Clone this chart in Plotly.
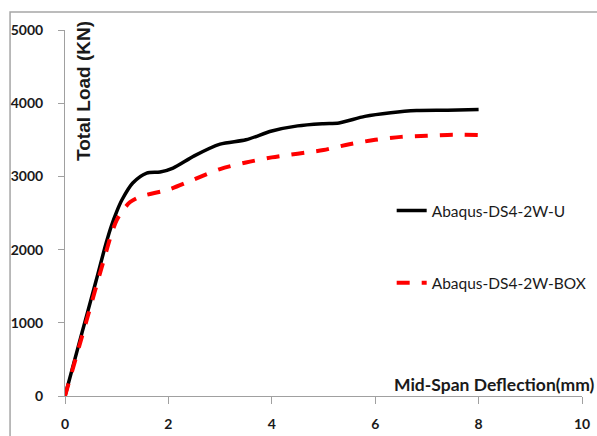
import plotly.graph_objects as go

# Data
u_x = [0, 0.3, 0.6, 0.8, 0.9, 1.0, 1.1, 1.31, 1.58, 1.84, 2.09, 2.5, 3.0, 3.5, 4.0, 4.5, 5.0, 5.3, 5.8, 6.3, 6.8, 7.4, 8.0]
u_y = [0, 790, 1570, 2100, 2330, 2520, 2677, 2910, 3046, 3060, 3114, 3280, 3440, 3500, 3620, 3690, 3720, 3730, 3820, 3870, 3900, 3905, 3915]

box_x = [0, 0.4, 0.8, 0.9, 1.0, 1.1, 1.26, 1.45, 2.0, 2.5, 3.0, 3.5, 4.0, 4.5, 5.0, 5.5, 6.0, 6.5, 7.0, 7.5, 8.0]
box_y = [0, 990, 1980, 2220, 2404, 2518, 2650, 2722, 2820, 2960, 3100, 3190, 3260, 3310, 3360, 3440, 3500, 3540, 3555, 3570, 3565]

series_names = ["Abaqus-DS4-2W-U", "Abaqus-DS4-2W-BOX"]
x_ticks = [0, 2, 4, 6, 8, 10]
y_ticks = [0, 1000, 2000, 3000, 4000, 5000]
x_title = "Mid-Span Deflection(mm)"
y_title = "Total Load (KN)"

W, H = 597, 436
ML, MR, MT, MB = 65, 14.5, 30, 40
pw, ph = W - ML - MR, H - MT - MB

def px2paper(px, py):
    return (px - ML) / pw, (H - MB - py) / ph

fig = go.Figure()
fig.add_trace(go.Scatter(x=u_x, y=u_y, mode="lines", name=series_names[0],
                         line=dict(color="black", width=3.5, shape="spline", smoothing=0.8),
                         legendgroup="a"))
fig.add_trace(go.Scatter(x=box_x, y=box_y, mode="lines", name=series_names[1],
                         line=dict(color="#ff0000", width=4, dash="13px,12px", shape="spline", smoothing=0.8),
                         legendgroup="b"))

axis_col = "#a0a0a0"
tickfont = dict(family="Lato", size=14, color="#1a1a1a", weight="bold")

fig.update_xaxes(range=[0, 10], tickvals=x_ticks, showgrid=False, zeroline=False,
                 showline=True, linecolor=axis_col, linewidth=1,
                 ticks="outside", ticklen=7, tickcolor=axis_col, tickwidth=1,
                 tickfont=tickfont, ticklabelstandoff=8, automargin=False)
fig.update_yaxes(range=[0, 5000], tickvals=y_ticks, showgrid=False, zeroline=False,
                 showline=True, linecolor=axis_col, linewidth=1,
                 ticks="outside", ticklen=6, tickcolor=axis_col, tickwidth=1,
                 tickfont=tickfont, ticklabelstandoff=12, automargin=False)

lx, ly = px2paper(392, 194)
bx0, by0 = px2paper(10, 12)
bx1, by1 = px2paper(W + 5, H + 5)
tx, ty = px2paper(598, 384)
yx, yy = px2paper(84, 91)

fig.update_layout(
    width=W, height=H,
    margin=dict(l=ML, r=MR, t=MT, b=MB, autoexpand=False),
    paper_bgcolor="white", plot_bgcolor="white",
    showlegend=True,
    legend=dict(x=lx, y=ly, xanchor="left", yanchor="top",
                font=dict(family="Lato", size=15.5, color="#1a1a1a"),
                tracegroupgap=49, bgcolor="rgba(0,0,0,0)", traceorder="grouped"),
    shapes=[dict(type="rect", xref="paper", yref="paper", x0=bx0, y0=by1, x1=bx1, y1=by0,
                 line=dict(color="#a6a6a6", width=1.5), layer="below")],
    annotations=[
        dict(text=x_title, xref="paper", yref="paper", x=tx, y=ty, xanchor="right", yanchor="middle",
             showarrow=False, font=dict(family="Lato", size=17.5, color="#1a1a1a", weight="bold")),
        dict(text=y_title, xref="paper", yref="paper", x=yx, y=yy, xanchor="center", yanchor="middle",
             textangle=-90, showarrow=False,
             font=dict(family="Liberation Sans", size=19, color="#1a1a1a", weight="bold")),
    ],
)

fig.write_html("out.html")
